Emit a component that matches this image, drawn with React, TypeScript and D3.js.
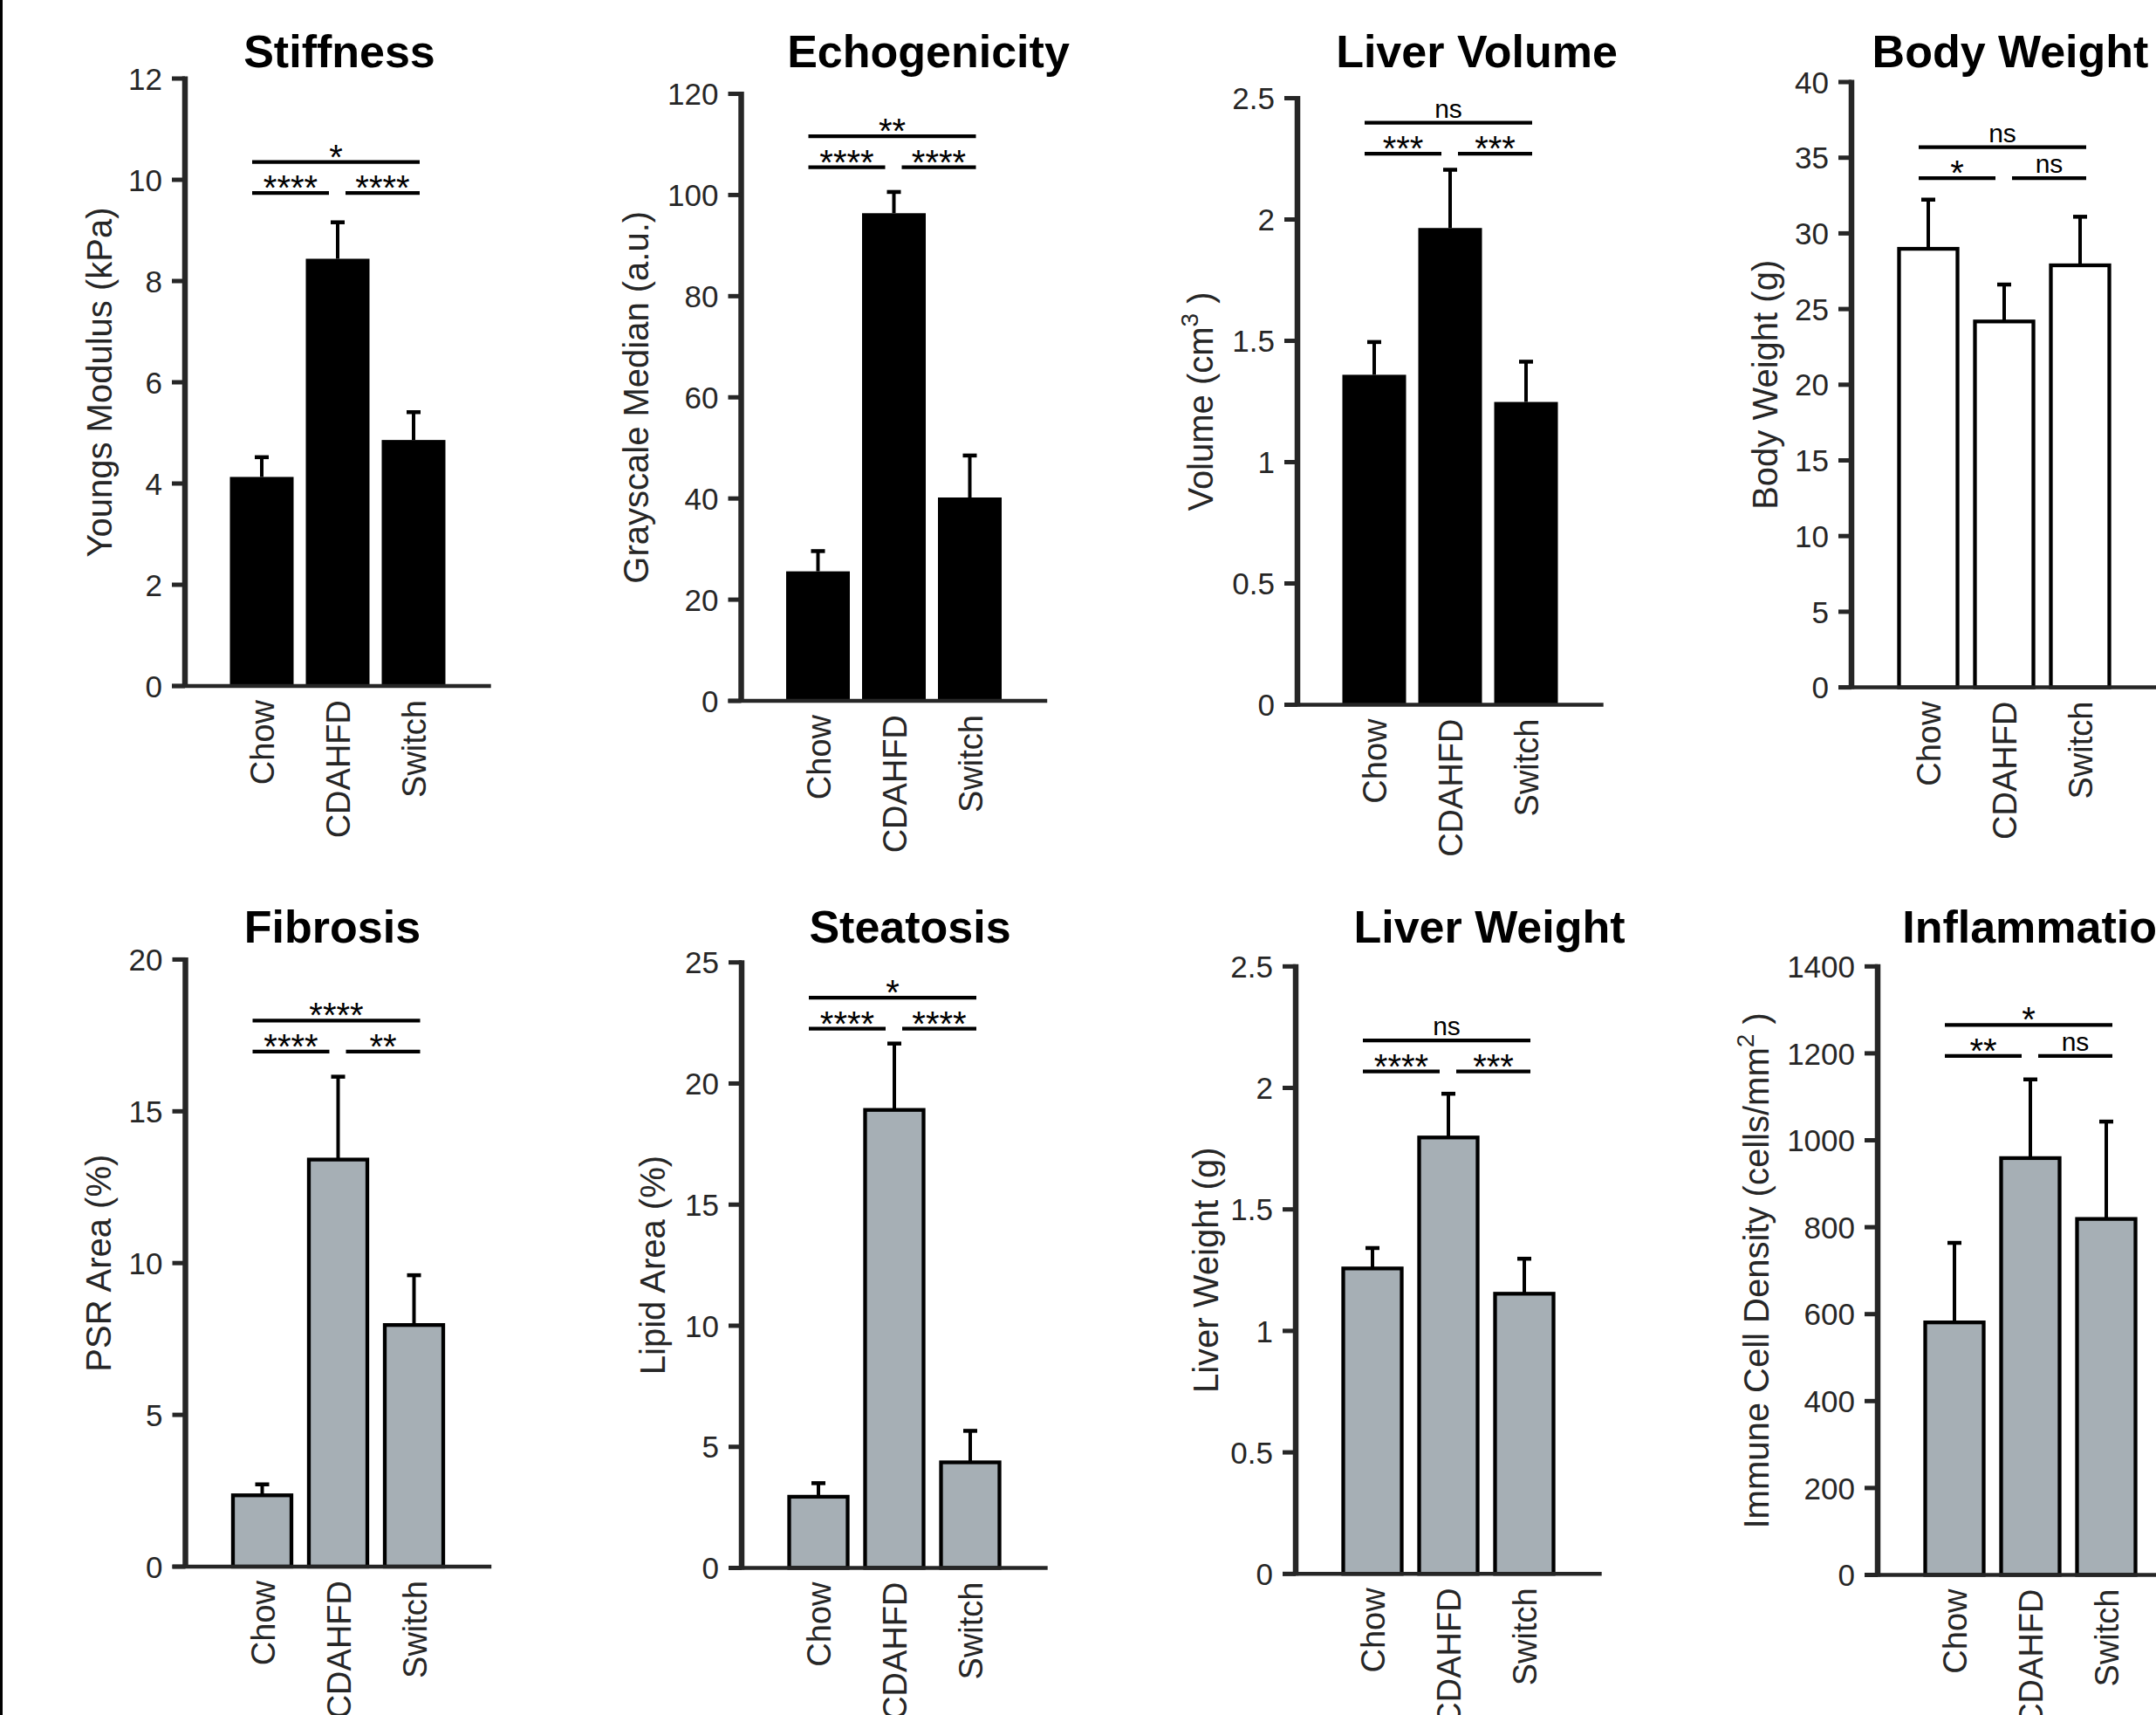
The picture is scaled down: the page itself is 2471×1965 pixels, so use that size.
import React from "react";
import * as d3 from "d3";

// groups on every x axis
const groups = ["Chow", "CDAHFD", "Switch"];

// mean and SEM per panel
const stiffnessMean = [4.13, 8.44, 4.86];
const stiffnessSem = [0.39, 0.72, 0.55];
const echoMean = [25.6, 96.4, 40.2];
const echoSem = [4.0, 4.2, 8.3];
const volumeMean = [1.36, 1.965, 1.248];
const volumeSem = [0.135, 0.24, 0.166];
const bodyMean = [28.98, 24.18, 27.89];
const bodySem = [3.25, 2.44, 3.21];
const fibrosisMean = [2.35, 13.41, 7.96];
const fibrosisSem = [0.36, 2.73, 1.64];
const steatosisMean = [2.94, 18.91, 4.36];
const steatosisSem = [0.56, 2.74, 1.3];
const liverWeightMean = [1.257, 1.796, 1.153];
const liverWeightSem = [0.084, 0.18, 0.144];
const inflamMean = [581, 959, 819];
const inflamSem = [183, 181, 224];

// significance labels: [Chow vs Switch, Chow vs CDAHFD, CDAHFD vs Switch]
const stiffnessSig = ["*", "****", "****"];
const echoSig = ["**", "****", "****"];
const volumeSig = ["ns", "***", "***"];
const bodySig = ["ns", "*", "ns"];
const fibrosisSig = ["****", "****", "**"];
const steatosisSig = ["*", "****", "****"];
const liverWeightSig = ["ns", "****", "***"];
const inflamSig = ["*", "**", "ns"];

const GRAY = "#a6afb5";
const INK = "#262626";
const FONT = "'Liberation Sans', Arial, Helvetica, sans-serif";

const panels = [
  { title: "Stiffness", label: "Youngs Modulus (kPa)", mean: stiffnessMean, sem: stiffnessSem, max: 12, step: 2, sig: stiffnessSig, sigLevel: 10.35, fill: "black",
    ax: 212, top: 90, base: 786, titleDx: 177, labelDx: -84, row: 0 },
  { title: "Echogenicity", label: "Grayscale Median (a.u.)", mean: echoMean, sem: echoSem, max: 120, step: 20, sig: echoSig, sigLevel: 111.6, fill: "black",
    ax: 849.5, top: 107.5, base: 803, titleDx: 214.5, labelDx: -107, row: 0 },
  { title: "Liver Volume", label: "Volume (cm", sup: "3", tail: " )", mean: volumeMean, sem: volumeSem, max: 2.5, step: 0.5, sig: volumeSig, sigLevel: 2.399, fill: "black",
    ax: 1487, top: 112.5, base: 807.5, titleDx: 205.5, labelDx: -97, row: 0 },
  { title: "Body Weight", label: "Body Weight (g)", mean: bodyMean, sem: bodySem, max: 40, step: 5, sig: bodySig, sigLevel: 35.7, fill: "white",
    ax: 2122, top: 94, base: 787.6, titleDx: 182, labelDx: -85, row: 0 },
  { title: "Fibrosis", label: "PSR Area (%)", mean: fibrosisMean, sem: fibrosisSem, max: 20, step: 5, sig: fibrosisSig, sigLevel: 17.99, fill: GRAY,
    ax: 212.5, top: 1099.4, base: 1795, titleDx: 168.5, labelDx: -86, row: 1 },
  { title: "Steatosis", label: "Lipid Area (%)", mean: steatosisMean, sem: steatosisSem, max: 25, step: 5, sig: steatosisSig, sigLevel: 23.54, fill: GRAY,
    ax: 850, top: 1102.7, base: 1796.5, titleDx: 193, labelDx: -88, row: 1 },
  { title: "Liver Weight", label: "Liver Weight (g)", mean: liverWeightMean, sem: liverWeightSem, max: 2.5, step: 0.5, sig: liverWeightSig, sigLevel: 2.195, fill: GRAY,
    ax: 1485, top: 1107.3, base: 1803.3, titleDx: 222, labelDx: -89.5, row: 1 },
  { title: "Inflammation", label: "Immune Cell Density (cells/mm", sup: "2", tail: " )", mean: inflamMean, sem: inflamSem, max: 1400, step: 200, sig: inflamSig, sigLevel: 1265.5, fill: GRAY,
    ax: 2152, top: 1107.3, base: 1804.5, titleDx: 190, labelDx: -125, row: 1 },
];

const titleBaseline = [77, 1080];

function SigText({ x, y, text }) {
  const ns = text === "ns";
  return (
    <text x={x} y={ns ? y - 6 : y + 8} textAnchor="middle" fontSize={ns ? 30 : 40} fill="#000">
      {text}
    </text>
  );
}

function Panel({ p }) {
  const y = d3.scaleLinear().domain([0, p.max]).range([p.base, p.top]);
  const x = d3
    .scaleBand()
    .domain(groups)
    .range([p.ax + 44.5, p.ax + 44.5 + 261])
    .paddingInner(14 / 87)
    .paddingOuter(7 / 87);
  const bw = x.bandwidth();
  const cx = (g) => x(g) + bw / 2;
  const ticks = d3.range(0, p.max + p.step / 2, p.step);
  const fmt = d3.format("~g");

  const c0 = cx(groups[0]);
  const c1 = cx(groups[1]);
  const c2 = cx(groups[2]);
  const topY = y(p.sigLevel);
  const lowY = topY + 35.5;
  const lines = [
    { x1: c0 - 11, x2: c2 + 7, y: topY, t: p.sig[0] },
    { x1: c0 - 11, x2: c1 - 10, y: lowY, t: p.sig[1] },
    { x1: c1 + 9, x2: c2 + 7, y: lowY, t: p.sig[2] },
  ];
  const outlined = p.fill !== "black";
  const midY = (p.top + p.base) / 2;

  return (
    <g>
      <text x={p.ax + p.titleDx} y={titleBaseline[p.row]} textAnchor="middle" fontSize={52} fontWeight="bold" fill="#000">
        {p.title}
      </text>

      {/* y axis */}
      <line x1={p.ax} x2={p.ax} y1={p.top - 2.5} y2={p.base + 2} stroke={INK} strokeWidth={6.5} />
      {ticks.map((t) => (
        <g key={t}>
          <line x1={p.ax - 15} x2={p.ax} y1={y(t)} y2={y(t)} stroke={INK} strokeWidth={5} />
          <text x={p.ax - 26} y={y(t)} dy="0.36em" textAnchor="end" fontSize={35} fill={INK}>
            {fmt(t)}
          </text>
        </g>
      ))}
      <text transform={`translate(${p.ax + p.labelDx},${midY}) rotate(-90)`} textAnchor="middle" fontSize={40} fill={INK}>
        {p.label}
        {p.sup && (
          <tspan fontSize={28} dy={-17}>
            {p.sup}
          </tspan>
        )}
        {p.tail && <tspan dy={17}>{p.tail}</tspan>}
      </text>

      {/* error bars */}
      {groups.map((g, i) => (
        <g key={g} stroke="#000">
          <line x1={cx(g)} x2={cx(g)} y1={y(p.mean[i])} y2={y(p.mean[i] + p.sem[i])} strokeWidth={4} />
          <line x1={cx(g) - 8} x2={cx(g) + 8} y1={y(p.mean[i] + p.sem[i])} y2={y(p.mean[i] + p.sem[i])} strokeWidth={4.5} />
        </g>
      ))}

      {/* bars */}
      {groups.map((g, i) =>
        outlined ? (
          <rect key={g} x={x(g) + 3} width={bw - 6} y={y(p.mean[i])} height={p.base - y(p.mean[i])} fill={p.fill} stroke="#000" strokeWidth={4.3} />
        ) : (
          <rect key={g} x={x(g)} width={bw} y={y(p.mean[i])} height={p.base - y(p.mean[i])} fill="#000" />
        )
      )}

      {/* x axis */}
      <line x1={p.ax - 15} x2={p.ax + 350.7} y1={p.base} y2={p.base} stroke={INK} strokeWidth={4.5} />
      {groups.map((g) => (
        <text key={g} transform={`translate(${cx(g)},${p.base + 16}) rotate(-90)`} dy={14} textAnchor="end" fontSize={38} fill={INK}>
          {g}
        </text>
      ))}

      {/* significance brackets */}
      {lines.map((l, i) => (
        <g key={i}>
          <line x1={l.x1} x2={l.x2} y1={l.y} y2={l.y} stroke="#000" strokeWidth={4.3} />
          <SigText x={(l.x1 + l.x2) / 2} y={l.y} text={l.t} />
        </g>
      ))}
    </g>
  );
}

export default function App() {
  return (
    <svg
      width={2471}
      height={1965}
      style={{ position: "absolute", left: 0, top: 0, background: "#fff" }}
      fontFamily={FONT}
    >
      <rect x={0} y={0} width={2471} height={1965} fill="#fff" />
      <rect x={0} y={0} width={3} height={1965} fill="#000" />
      {panels.map((p) => (
        <Panel key={p.title} p={p} />
      ))}
    </svg>
  );
}
